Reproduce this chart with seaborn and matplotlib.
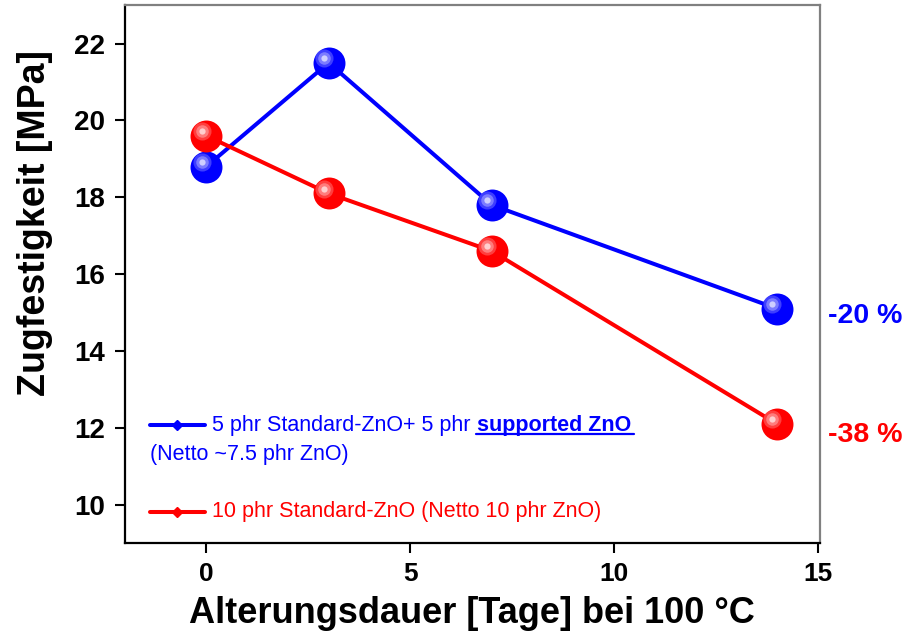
import numpy as np
import pandas as pd
import matplotlib
matplotlib.use("Agg")
import matplotlib.pyplot as plt
import matplotlib.transforms as mtransforms
from matplotlib.lines import Line2D
import seaborn as sns

# data
days = [0, 3, 7, 14]
supported_zno = [18.8, 21.5, 17.8, 15.1]
standard_zno = [19.6, 18.1, 16.6, 12.1]
series_names = ["5 phr Standard-ZnO+ 5 phr supported ZnO", "10 phr Standard-ZnO"]
series_colors = ["#0000ff", "#ff0000"]
x_ticks = [0, 5, 10, 15]
y_ticks = [10, 12, 14, 16, 18, 20, 22]
change_labels = ["-20 %", "-38 %"]

df = pd.DataFrame({
    "Tage": days * 2,
    "Zugfestigkeit": supported_zno + standard_zno,
    "Serie": [series_names[0]] * len(days) + [series_names[1]] * len(days),
})

sns.set_style("ticks")
plt.rcParams["font.family"] = ["Liberation Sans", "DejaVu Sans"]
plt.rcParams["text.color"] = "black"
plt.rcParams["axes.labelcolor"] = "black"
plt.rcParams["xtick.color"] = "black"
plt.rcParams["ytick.color"] = "black"

fig = plt.figure(figsize=(9.18, 6.43), dpi=100)
ax = fig.add_axes([0.136, 0.1555, 0.757, 0.8365])

sns.lineplot(data=df, x="Tage", y="Zugfestigkeit", hue="Serie",
             palette=dict(zip(series_names, series_colors)),
             linewidth=2.9, marker="o", markersize=23, markeredgewidth=0,
             legend=False, ax=ax)

# sphere highlight on the markers
for vals, col in zip([supported_zno, standard_zno], series_colors):
    light = mtransforms.offset_copy(ax.transData, fig=fig, x=-3.5, y=3.5, units="points")
    base = matplotlib.colors.to_rgb(col)
    for ms, w, a in [(13, 0.35, 0.7), (9, 0.55, 0.8), (4.5, 0.85, 0.9)]:
        c = tuple((1 - w) * b + w for b in base)
        ax.plot(days, vals, "o", ms=ms, color=c, mec="none", alpha=a,
                transform=light, zorder=5)

ax.set_xlim(-2, 15.05)
ax.set_ylim(9, 23)
ax.set_xticks(x_ticks)
ax.set_yticks(y_ticks)
ax.tick_params(direction="out", length=7, width=1.5, pad=7)
ax.tick_params(axis="y", labelsize=20)
ax.tick_params(axis="x", labelsize=19)
for lab in ax.get_xticklabels() + ax.get_yticklabels():
    lab.set_fontweight("bold")
ax.tick_params(axis="both", top=False, right=False)
for side in ["left", "bottom"]:
    ax.spines[side].set_color("black")
    ax.spines[side].set_linewidth(1.6)
for side in ["top", "right"]:
    ax.spines[side].set_visible(True)
    ax.spines[side].set_color("#808080")
    ax.spines[side].set_linewidth(1.6)

ax.set_xlabel("Alterungsdauer [Tage] bei 100 °C", fontsize=26, fontweight="bold", labelpad=7)
ax.set_ylabel("Zugfestigkeit [MPa]", fontsize=27, fontweight="bold")
ax.yaxis.set_label_coords(-0.104, 0.595)

# hand-made legend
for ypos, col in zip([0.219, 0.058], series_colors):
    ax.add_line(Line2D([0.036, 0.115], [ypos, ypos], transform=ax.transAxes,
                       color=col, lw=2.9))
    ax.plot([0.0755], [ypos], "D", ms=5, color=col, transform=ax.transAxes)

t1 = ax.text(0.126, 0.219, "5 phr Standard-ZnO+ 5 phr", transform=ax.transAxes,
             color=series_colors[0], fontsize=15.5, va="center")
t2 = ax.annotate(" supported ZnO", xy=(1, 0), xycoords=t1, va="bottom",
                 color=series_colors[0], fontsize=15.5, fontweight="bold")
ax.text(0.036, 0.164, "(Netto ~7.5 phr ZnO)", transform=ax.transAxes,
        color=series_colors[0], fontsize=15.5, va="center")
ax.text(0.126, 0.058, "10 phr Standard-ZnO (Netto 10 phr ZnO)", transform=ax.transAxes,
        color=series_colors[1], fontsize=15.5, va="center")

# percent change labels outside the right spine
blend = mtransforms.blended_transform_factory(ax.transAxes, ax.transData)
for lab, yv, col in zip(change_labels, [supported_zno[-1] - 0.2, standard_zno[-1] - 0.3], series_colors):
    ax.text(1.012, yv, lab, transform=blend, color=col, fontsize=20.5,
            fontweight="bold", va="center", clip_on=False)

# underline the bold part of the legend
fig.canvas.draw()
bb = t2.get_window_extent().transformed(ax.transAxes.inverted())
ax.add_line(Line2D([bb.x0 + 0.008, bb.x1 + 0.004], [bb.y0 + 0.004, bb.y0 + 0.004],
                   transform=ax.transAxes, color=series_colors[0], lw=1.6, clip_on=False))

fig.savefig("out.png", dpi=100)
